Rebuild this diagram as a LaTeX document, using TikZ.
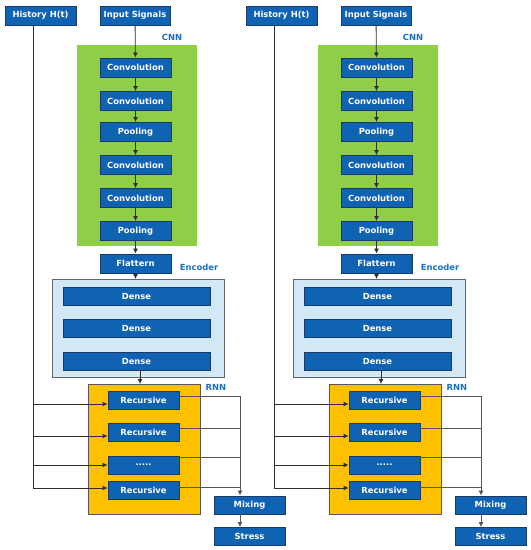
\documentclass[tikz,border=0pt]{standalone}
\usepackage{fontspec}
\setmainfont{DejaVu Sans}
\usetikzlibrary{arrows.meta,calc}
\definecolor{boxblue}{HTML}{1062B2}
\definecolor{boxedge}{HTML}{1B3A66}
\definecolor{cnngreen}{HTML}{8FCF48}
\definecolor{encblue}{HTML}{D2E8F4}
\definecolor{rnnorange}{HTML}{FFC000}
\definecolor{lblblue}{HTML}{1A6FC0}
\definecolor{linedark}{HTML}{2E2E2E}
\definecolor{linegray}{HTML}{555555}
\tikzset{
  blk/.style={draw=boxedge,fill=boxblue,line width=0.9pt,text=white,
    font=\fontsize{8.4}{9}\selectfont\bfseries,inner sep=0pt,
    minimum width=71pt,minimum height=19pt},
  wideblk/.style={blk,minimum width=147pt,minimum height=18pt},
  lbl/.style={text=lblblue,font=\fontsize{8.4}{9}\selectfont\bfseries,inner sep=0pt},
  arr/.style={draw=linedark,line width=0.8pt,-{Latex[length=5pt,width=5pt]}},
  ln/.style={draw=linedark,line width=0.8pt},
  outln/.style={draw=linegray,line width=0.8pt},
  outarr/.style={draw=linegray,line width=0.8pt,-{Latex[length=5pt,width=5pt]}}
}
\newcommand{\drawhalf}[2]{%
\begin{scope}[xshift=#2pt]
  \fill[cnngreen] (77,45) rectangle (197,246);
  \filldraw[fill=encblue,draw=gray!80!black,line width=0.8pt] (52,279) rectangle (224,377);
  \filldraw[fill=rnnorange,draw=gray!70!black,line width=0.8pt] (88,384) rectangle (200,514);
  \node[blk] (#1hist) at (40.5,15.5) {History H(t)};
  \node[blk,minimum width=70pt] (#1inp) at (135,15.5) {Input Signals};
  \node[lbl] (#1cnnl) at (172,37) {CNN};
  \node[blk] (#1c1) at (135.5,67.5) {Convolution};
  \node[blk] (#1c2) at (135.5,101) {Convolution};
  \node[blk] (#1p1) at (135.5,132) {Pooling};
  \node[blk] (#1c3) at (135.5,165) {Convolution};
  \node[blk] (#1c4) at (135.5,198) {Convolution};
  \node[blk] (#1p2) at (135.5,231) {Pooling};
  \node[blk] (#1fl) at (135.5,263.5) {Flattern};
  \node[lbl] (#1encl) at (199,267) {Encoder};
  \node[wideblk] (#1d1) at (136.5,296) {Dense};
  \node[wideblk] (#1d2) at (136.5,328) {Dense};
  \node[wideblk] (#1d3) at (136.5,361) {Dense};
  \node[lbl] (#1rnnl) at (216,387) {RNN};
  \node[blk,minimum height=18pt] (#1r1) at (143.5,400) {Recursive};
  \node[blk,minimum height=18pt] (#1r2) at (143.5,432.5) {Recursive};
  \node[blk,minimum height=18pt] (#1r3) at (143.5,465) {.....};
  \node[blk,minimum height=18pt] (#1r4) at (143.5,490.5) {Recursive};
  \node[blk,minimum height=18pt] (#1mix) at (249.5,505) {Mixing};
  \node[blk,minimum height=18pt] (#1st) at (249.5,536.5) {Stress};
  \coordinate (#1encin) at (135.5,279);
  \coordinate (#1rnnin) at (140,384);
  \coordinate (#1trunk) at (33,488);
  \coordinate (#1bus) at (240,396);
  % CNN chain
  \draw[arr] (#1inp) -- (#1c1);
  \draw[arr] (#1c1) -- (#1c2);
  \draw[arr] (#1c2) -- (#1p1);
  \draw[arr] (#1p1) -- (#1c3);
  \draw[arr] (#1c3) -- (#1c4);
  \draw[arr] (#1c4) -- (#1p2);
  \draw[arr] (#1p2) -- (#1fl);
  \draw[arr] (#1fl) -- (#1encin);
  \draw[arr] (#1d3.south -| #1rnnin) -- (#1rnnin);
  % history inputs
  \draw[ln] (#1hist.south -| #1trunk) -- (#1trunk);
  \draw[arr] (#1trunk |- 0,404) -- (#1r1.west |- 0,404);
  \draw[arr] (#1trunk |- 0,436) -- (#1r2.west |- 0,436);
  \draw[arr] (#1trunk |- 0,465) -- (#1r3.west |- 0,465);
  \draw[arr] (#1trunk) -- (#1r4.west |- #1trunk);
  % outputs
  \draw[outln] (#1r1.east |- #1bus) -- (#1bus);
  \draw[outln] (#1r2.east |- 0,428) -- (#1bus |- 0,428);
  \draw[outln] (#1r3.east |- 0,457) -- (#1bus |- 0,457);
  \draw[outln] (#1r4.east |- 0,487) -- (#1bus |- 0,487);
  \draw[outarr] (#1bus) -- (#1bus |- #1mix.north);
  \draw[outarr] (#1bus |- #1mix.south) -- (#1bus |- #1st.north);
\end{scope}}
\begin{document}
\begin{tikzpicture}[x=1pt,y=-1pt]
  \useasboundingbox (0,0) rectangle (531,550);
  \drawhalf{L}{0}
  \drawhalf{R}{241}
\end{tikzpicture}
\end{document}
